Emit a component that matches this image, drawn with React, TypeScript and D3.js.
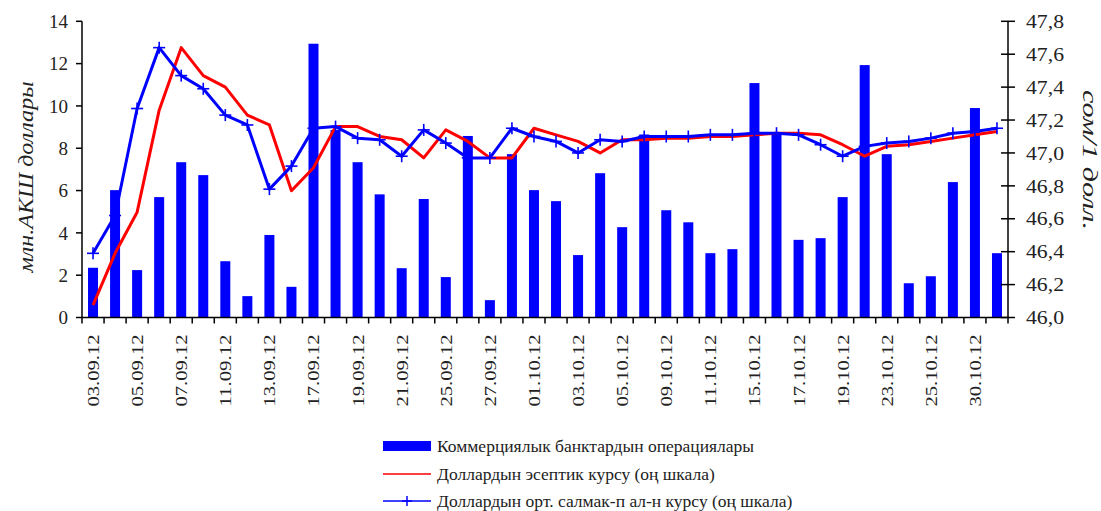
import React from "react";
import * as d3 from "d3";

const dates = [
  "03.09.12", "04.09.12", "05.09.12", "06.09.12", "07.09.12", "10.09.12", "11.09.12",
  "12.09.12", "13.09.12", "14.09.12", "17.09.12", "18.09.12", "19.09.12", "20.09.12",
  "21.09.12", "24.09.12", "25.09.12", "26.09.12", "27.09.12", "28.09.12", "01.10.12",
  "02.10.12", "03.10.12", "04.10.12", "05.10.12", "08.10.12", "09.10.12", "10.10.12",
  "11.10.12", "12.10.12", "15.10.12", "16.10.12", "17.10.12", "18.10.12", "19.10.12",
  "22.10.12", "23.10.12", "24.10.12", "25.10.12", "26.10.12", "30.10.12", "31.10.12",
];

// операциялар, млн. АКШ доллары
const operations = [
  2.35, 6.02, 2.24, 5.69, 7.34, 6.73, 2.66, 1.01, 3.9, 1.45, 12.94, 8.86, 7.34, 5.82,
  2.33, 5.6, 1.91, 8.58, 0.82, 7.72, 6.02, 5.5, 2.95, 6.82, 4.27, 8.65, 5.07, 4.5,
  3.04, 3.23, 11.08, 8.7, 3.67, 3.75, 5.69, 11.93, 7.72, 1.62, 1.95, 6.4, 9.9, 3.04,
];

// эсептик курс
const officialRate = [
  46.075, 46.39, 46.64, 47.26, 47.64, 47.47, 47.4, 47.23, 47.17, 46.77, 46.91, 47.16,
  47.16, 47.1, 47.08, 46.97, 47.14, 47.07, 46.97, 46.97, 47.15, 47.11, 47.07, 47.0,
  47.08, 47.08, 47.09, 47.09, 47.1, 47.1, 47.11, 47.12, 47.12, 47.11, 47.05, 46.98,
  47.04, 47.05, 47.07, 47.09, 47.11, 47.13,
];

// орт. салмактанып алынган курс
const weightedRate = [
  46.39, 46.62, 47.27, 47.64, 47.47, 47.39, 47.23, 47.17, 46.78, 46.92, 47.15, 47.16,
  47.09, 47.08, 46.98, 47.14, 47.06, 46.97, 46.97, 47.15, 47.1, 47.07, 47.0, 47.08,
  47.07, 47.1, 47.1, 47.1, 47.11, 47.11, 47.12, 47.12, 47.11, 47.05, 46.98, 47.04,
  47.06, 47.07, 47.09, 47.12, 47.13, 47.15,
];

const leftTicks = [0, 2, 4, 6, 8, 10, 12, 14];
const rightTicks = [46.0, 46.2, 46.4, 46.6, 46.8, 47.0, 47.2, 47.4, 47.6, 47.8];

const legendLabels = [
  "Коммерциялык банктардын операциялары",
  "Доллардын эсептик курсу (оң шкала)",
  "Доллардын орт. салмак-п ал-н курсу (оң шкала)",
];

const font = "'Liberation Serif', 'Times New Roman', serif";

export default function App() {
  const left = 82;
  const right = 1008;
  const top = 21.3;
  const bottom = 317.5;

  const x = d3.scaleBand().domain(dates).range([left, right]);
  const yL = d3.scaleLinear().domain([0, 14]).range([bottom, top]);
  const yR = d3.scaleLinear().domain([46, 47.8]).range([bottom, top]);
  const cx = (d: string) => (x(d) ?? 0) + x.bandwidth() / 2;
  const barW = 10;

  const rateLine = d3
    .line<number>()
    .x((_, i) => cx(dates[i]))
    .y((d) => yR(d));

  const fmt = (v: number) => v.toFixed(1).replace(".", ",");

  const plus = (px: number, py: number, s: number, key: string | number, w = 1.6) => (
    <g key={key} stroke="#0000ff" strokeWidth={w}>
      <line x1={px - s} x2={px + s} y1={py} y2={py} />
      <line x1={px} x2={px} y1={py - s} y2={py + s} />
    </g>
  );

  const legendX = 383;
  const legendY = [446, 474, 501];

  return (
    <svg
      width={1101}
      height={511}
      style={{ position: "absolute", left: 0, top: 0, background: "#fff" }}
      fontFamily={font}
    >
      {/* bars */}
      {operations.map((v, i) => (
        <rect
          key={i}
          x={cx(dates[i]) - barW / 2}
          y={yL(v)}
          width={barW}
          height={bottom - yL(v)}
          fill="#0000ff"
        />
      ))}

      {/* lines */}
      <path d={rateLine(officialRate) ?? ""} fill="none" stroke="#ff0000" strokeWidth={3} strokeLinejoin="round" />
      <path d={rateLine(weightedRate) ?? ""} fill="none" stroke="#0000ff" strokeWidth={3} strokeLinejoin="round" />
      {weightedRate.map((v, i) => plus(cx(dates[i]), yR(v), 6, i))}

      {/* left axis */}
      <line x1={left} x2={left} y1={top} y2={bottom} stroke="#000" strokeWidth={1.5} />
      {leftTicks.map((t) => (
        <g key={t}>
          <line x1={left - 6} x2={left} y1={yL(t)} y2={yL(t)} stroke="#000" strokeWidth={1.5} />
          <text x={left - 14} y={yL(t)} dy="0.35em" textAnchor="end" fontSize={19} fill="#222">
            {t}
          </text>
        </g>
      ))}
      <text
        transform={`translate(33, 177) rotate(-90)`}
        textAnchor="middle"
        fontSize={20}
        fontStyle="italic"
        fill="#222"
        textLength={191}
        lengthAdjust="spacingAndGlyphs"
      >
        млн.АКШ доллары
      </text>

      {/* right axis */}
      <line x1={right} x2={right} y1={top} y2={bottom} stroke="#000" strokeWidth={1.5} />
      {rightTicks.map((t) => (
        <g key={t}>
          <line x1={right - 7} x2={right + 7} y1={yR(t)} y2={yR(t)} stroke="#000" strokeWidth={1.5} />
          <text
            x={right + 18}
            y={yR(t)}
            dy="0.35em"
            textAnchor="start"
            fontSize={19}
            fill="#222"
            textLength={38}
            lengthAdjust="spacingAndGlyphs"
          >
            {fmt(t)}
          </text>
        </g>
      ))}
      <text
        transform={`translate(1083, 160) rotate(90)`}
        textAnchor="middle"
        fontSize={20}
        fontStyle="italic"
        fill="#222"
        textLength={140}
        lengthAdjust="spacingAndGlyphs"
      >
        сом/1 долл.
      </text>

      {/* bottom axis */}
      <line x1={left} x2={right} y1={bottom} y2={bottom} stroke="#000" strokeWidth={1.5} />
      {dates.map((d) => (
        <line
          key={d}
          x1={x(d) ?? 0}
          x2={x(d) ?? 0}
          y1={bottom}
          y2={bottom + 6}
          stroke="#000"
          strokeWidth={1.5}
        />
      ))}
      <line x1={right} x2={right} y1={bottom} y2={bottom + 6} stroke="#000" strokeWidth={1.5} />
      {dates.map((d, i) =>
        i % 2 === 0 ? (
          <text
            key={d}
            transform={`translate(${cx(d)}, ${bottom + 17}) rotate(-90)`}
            textAnchor="end"
            dy="0.35em"
            fontSize={17}
            fill="#222"
            textLength={72}
            lengthAdjust="spacingAndGlyphs"
          >
            {d}
          </text>
        ) : null
      )}

      {/* legend */}
      <rect x={legendX} y={legendY[0] - 5} width={48} height={10} fill="#0000ff" />
      <line x1={legendX} x2={legendX + 48} y1={legendY[1]} y2={legendY[1]} stroke="#ff0000" strokeWidth={1.5} />
      <line x1={legendX} x2={legendX + 48} y1={legendY[2]} y2={legendY[2]} stroke="#0000ff" strokeWidth={1.5} />
      {plus(legendX + 24, legendY[2], 5, "lg", 1.5)}
      {legendLabels.map((l, i) => (
        <text key={l} x={437} y={legendY[i]} dy="0.35em" fontSize={17.5} fill="#222">
          {l}
        </text>
      ))}
    </svg>
  );
}
